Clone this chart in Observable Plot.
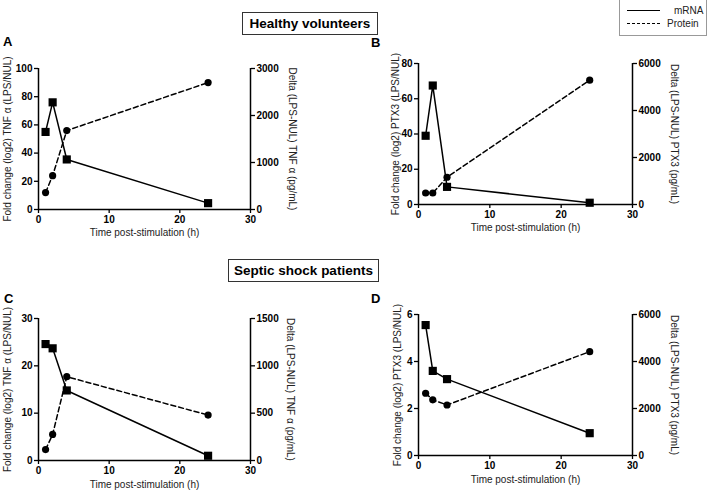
<!DOCTYPE html>
<html><head><meta charset="utf-8">
<script src="https://cdn.jsdelivr.net/npm/d3@7"></script>
<script src="https://cdn.jsdelivr.net/npm/@observablehq/plot@0.6"></script>
<style>
body{margin:0;background:#fff;font-family:"Liberation Sans",Arial,sans-serif;}
#root{position:relative;width:708px;height:494px;overflow:hidden;background:#fff;}
#root svg{position:absolute;background:transparent !important;color:#000;}
.tbox{position:absolute;border:1.5px solid #333;font-weight:bold;font-size:13.5px;display:flex;align-items:center;justify-content:center;box-sizing:border-box;color:#000;}
.letter{position:absolute;font-weight:bold;font-size:13px;color:#000;}
.legend{position:absolute;left:619px;top:-1px;width:88px;height:37px;border:1px solid #999;box-sizing:border-box;font-size:10px;color:#222;}
.legend .row{position:absolute;left:7px;display:flex;align-items:center;}
.legend .ln{display:block;width:33px;height:0;border-top:1.5px solid #000;margin-right:7px;}
.legend .ln.d{border-top:1.5px dashed #000;}
</style></head><body><div id="root"></div>
<script>
// ---- data ----
const times = [1, 2, 4, 24];
const xTicks = [0, 10, 20, 30];

const mrnaA = [55, 76, 35.5, 4.5];
const proteinA = [360, 720, 1680, 2700];
const leftTicksA = [0, 20, 40, 60, 80, 100];
const rightTicksA = [0, 1000, 2000, 3000];

const mrnaB = [39, 67.5, 10, 1];
const proteinB = [490, 490, 1160, 5290];
const leftTicksB = [0, 20, 40, 60, 80];
const rightTicksB = [0, 2000, 4000, 6000];

const mrnaC = [24.6, 23.7, 14.8, 1.0];
const proteinC = [115, 275, 885, 480];
const leftTicksC = [0, 10, 20, 30];
const rightTicksC = [0, 500, 1000, 1500];

const mrnaD = [5.55, 3.6, 3.25, 0.95];
const proteinD = [2650, 2370, 2150, 4420];
const leftTicksD = [0, 2, 4, 6];
const rightTicksD = [0, 2000, 4000, 6000];

const xTitle = "Time post-stimulation (h)";
const leftTitles = ["Fold change (log2) TNF \u03b1 (LPS/NUL)", "Fold change (log2) PTX3 (LPS/NUL)", "Fold change (log2) TNF \u03b1 (LPS/NUL)", "Fold change (log2) PTX3 (LPS/NUL)"];
const rightTitles = ["Delta (LPS-NUL) TNF \u03b1 (pg/mL)", "Delta (LPS-NUL) PTX3 (pg/mL)", "Delta (LPS-NUL) TNF \u03b1 (pg/mL)", "Delta (LPS-NUL) PTX3 (pg/mL)"];
const panelLetters = ["A", "B", "C", "D"];
const groupTitles = ["Healthy volunteers", "Septic shock patients"];
const legendLabels = ["mRNA", "Protein"];

// ---- layout ----
const panels = [
  {left: 0, top: 50, w: 354, h: 200, mL: 38, mR: 104, mT: 18, mB: 41, mrna: mrnaA, protein: proteinA, lt: leftTicksA, rt: rightTicksA, ldx: -31, rdx: 42, xdy: 26, letter: [3, 34]},
  {left: 354, top: 45, w: 354, h: 200, mL: 64, mR: 76, mT: 18, mB: 41, mrna: mrnaB, protein: proteinB, lt: leftTicksB, rt: rightTicksB, ldx: -23, rdx: 42, xdy: 26, letter: [371, 35]},
  {left: 0, top: 300, w: 354, h: 194, mL: 38, mR: 104, mT: 18, mB: 34, mrna: mrnaC, protein: proteinC, lt: leftTicksC, rt: rightTicksC, ldx: -31, rdx: 40, xdy: 27, letter: [4, 291]},
  {left: 354, top: 296, w: 354, h: 198, mL: 64, mR: 76, mT: 18, mB: 39, mrna: mrnaD, protein: proteinD, lt: leftTicksD, rt: rightTicksD, ldx: -21, rdx: 42, xdy: 27, letter: [371, 291]}
];

const root = document.getElementById("root");
const font = "Liberation Sans, Arial, sans-serif";
const tickFont = "Liberation Sans Narrow, Arial Narrow, Liberation Sans, sans-serif";
const fmt = d3.format("d");
const tickStyle = {tickSize: 4, tickPadding: 2, tickFormat: fmt, fontWeight: "bold", fontSize: 10, fontFamily: tickFont, strokeWidth: 1.3, label: null};

panels.forEach((p, i) => {
  const rowsM = times.map((t, k) => ({t, v: p.mrna[k]}));
  const rowsP = times.map((t, k) => ({t, v: p.protein[k]}));
  const yMax = p.lt[p.lt.length - 1];
  const y2Max = p.rt[p.rt.length - 1];
  const common = {
    width: p.w, height: p.h,
    marginLeft: p.mL, marginRight: p.mR, marginTop: p.mT, marginBottom: p.mB,
    style: {fontFamily: font, fontSize: "10px", background: "transparent", color: "#000", overflow: "visible"}
  };
  const s1 = Plot.plot({
    ...common,
    x: {domain: [0, 30]},
    y: {domain: [0, yMax]},
    marks: [
      Plot.ruleY([0], {stroke: "#000", strokeWidth: 1.5}),
      Plot.ruleX([0], {stroke: "#000", strokeWidth: 1.5}),
      Plot.axisX({ticks: xTicks, ...tickStyle}),
      Plot.axisY({ticks: p.lt, ...tickStyle}),
      Plot.text([xTitle], {text: d => d, frameAnchor: "bottom", dy: p.xdy, fontSize: 10, fill: "#222"}),
      Plot.text([leftTitles[i]], {text: d => d, frameAnchor: "left", textAnchor: "middle", rotate: -90, dx: p.ldx, fontSize: 10, fill: "#222"}),
      Plot.line(rowsM, {x: "t", y: "v", stroke: "#000", strokeWidth: 1.5}),
      Plot.dot(rowsM, {x: "t", y: "v", symbol: "square", r: 4.6, fill: "#000", stroke: null})
    ]
  });
  const s2 = Plot.plot({
    ...common,
    x: {domain: [0, 30], axis: null},
    y: {domain: [0, y2Max], axis: null},
    marks: [
      Plot.ruleX([30], {stroke: "#000", strokeWidth: 1.5}),
      Plot.axisY({anchor: "right", ticks: p.rt, ...tickStyle}),
      Plot.text([rightTitles[i]], {text: d => d, frameAnchor: "right", textAnchor: "middle", rotate: 90, dx: p.rdx, fontSize: 10, fill: "#222"}),
      Plot.line(rowsP, {x: "t", y: "v", stroke: "#000", strokeWidth: 1.5, strokeDasharray: "5,3"}),
      Plot.dot(rowsP, {x: "t", y: "v", symbol: "circle", r: 3.6, fill: "#000", stroke: null})
    ]
  });
  for (const s of [s1, s2]) {
    s.style.left = p.left + "px";
    s.style.top = p.top + "px";
    root.appendChild(s);
  }
  const L = document.createElement("div");
  L.className = "letter";
  L.textContent = panelLetters[i];
  L.style.left = p.letter[0] + "px";
  L.style.top = p.letter[1] + "px";
  root.appendChild(L);
});

// group title boxes
[[242, 12, 136, 23], [228, 259, 151, 23]].forEach((b, k) => {
  const d = document.createElement("div");
  d.className = "tbox";
  d.style.left = b[0] + "px"; d.style.top = b[1] + "px";
  d.style.width = b[2] + "px"; d.style.height = b[3] + "px";
  d.textContent = groupTitles[k];
  root.appendChild(d);
});

// legend
const lg = document.createElement("div");
lg.className = "legend";
legendLabels.forEach((lab, k) => {
  const r = document.createElement("div");
  r.className = "row";
  r.style.top = (k === 0 ? 5 : 18) + "px";
  const ln = document.createElement("span");
  ln.className = "ln" + (k === 1 ? " d" : "");
  const tx = document.createElement("span");
  tx.textContent = lab;
  if (k === 0) tx.style.marginLeft = "7px";
  r.appendChild(ln); r.appendChild(tx);
  lg.appendChild(r);
});
root.appendChild(lg);
</script>
</body></html>
